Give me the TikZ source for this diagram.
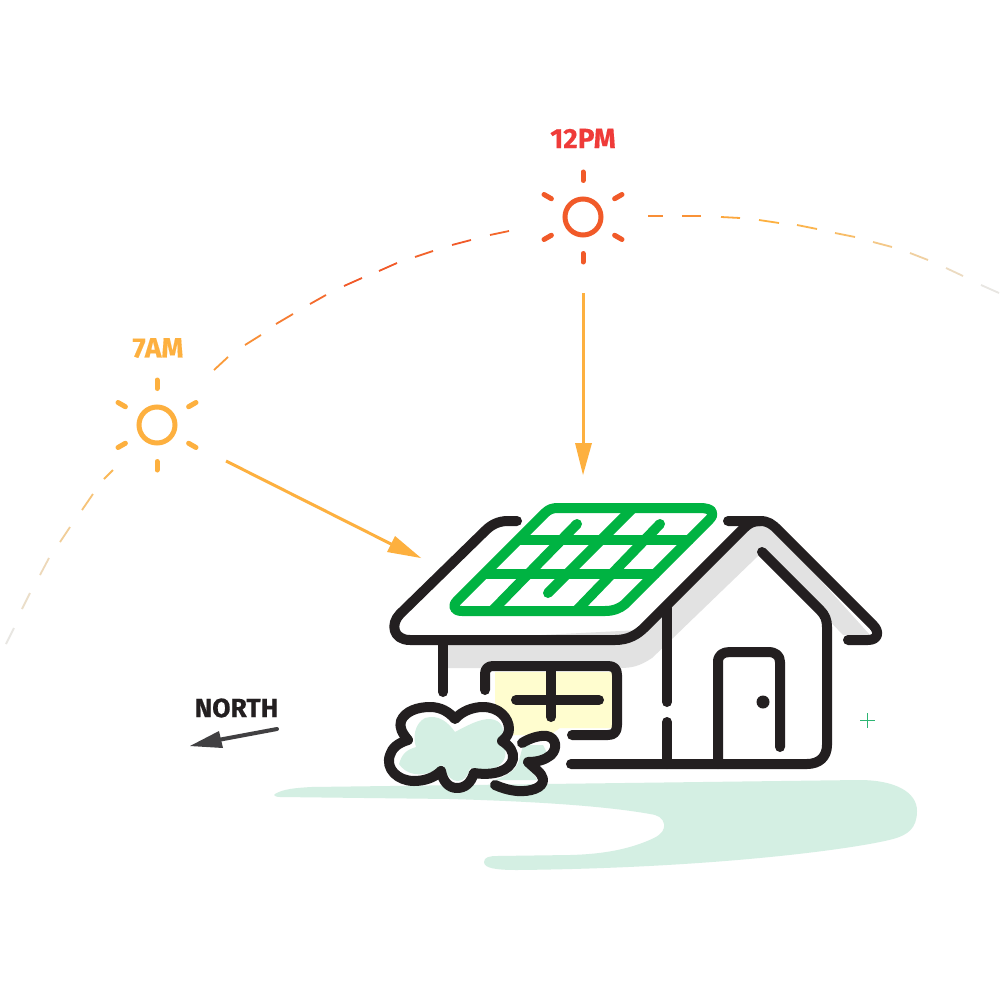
\documentclass[tikz,border=0pt]{standalone}
\usepackage{fontspec}
\newfontfamily\labelfont{Fira Sans Bold}[FakeBold=0.35]
\definecolor{ink}{HTML}{231F20}
\definecolor{solar}{HTML}{00B342}
\definecolor{amber}{HTML}{FDB03F}
\definecolor{noon}{HTML}{F15A29}
\definecolor{noontext}{HTML}{EF3B39}
\definecolor{lawn}{HTML}{D4EFE3}
\definecolor{roofgrey}{HTML}{E2E2E2}
\definecolor{pane}{HTML}{FFFDCF}
\definecolor{pointer}{HTML}{414042}
\definecolor{sparkle}{HTML}{2DB573}
\definecolor{paleline}{HTML}{E8E6E2}
\tikzset{
  outline/.style={draw=ink,line width=10pt,line cap=round,line join=round},
  panel/.style={draw=solar,line width=10pt,line cap=round,line join=round},
  ray/.style={line width=5pt,line cap=round},
  beam/.style={draw=amber,line width=3pt},
  pathdash/.style={line width=1.8pt},
  northtext/.style={font=\labelfont\fontsize{26.5}{26.5}\selectfont,inner sep=0pt},
  hourlabel/.style={font=\labelfont\fontsize{28}{28}\selectfont,inner sep=0pt},
}
\newcommand{\drawsun}[3]{%
  \draw[#3,line width=5pt] (#1,#2) circle[radius=18pt];
  \foreach \a in {30,90,150,210,270,330}
    \draw[#3,ray] ([shift={(\a:36.5pt)}]#1,#2) -- ([shift={(\a:45pt)}]#1,#2);
}
\newcommand{\shrubpath}{(455,719) .. controls (462,711) and (473,707) .. (483,707)
  .. controls (499,707) and (509,718) .. (509,729)
  .. controls (509,734) and (506,738) .. (502,741)
  .. controls (510,746) and (514,752) .. (513,759)
  .. controls (510,771) and (494,776) .. (474,773)
  .. controls (471,783) and (465,788) .. (457,788)
  .. controls (449,788) and (443,782) .. (441,771)
  .. controls (434,778) and (424,781) .. (414,781)
  .. controls (398,781) and (385,769) .. (390,755)
  .. controls (392,748) and (398,743) .. (408,740)
  .. controls (402,733) and (399,727) .. (401,721)
  .. controls (405,711) and (418,707) .. (430,707)
  .. controls (441,707) and (449,712) .. (455,719) -- cycle}
\begin{document}
\begin{tikzpicture}[x=1pt,y=-1pt]
\useasboundingbox (0,0) rectangle (1000,1000);
\fill[white] (0,0) rectangle (1000,1000);

% lawn
\fill[lawn] (275,794) .. controls (283,789) and (295,788) .. (311,787)
  -- (859,780) .. controls (895,780) and (917,792) .. (917,811)
  .. controls (917,828) and (908,835) .. (893,839)
  .. controls (860,848) and (720,868) .. (517,870)
  .. controls (495,870) and (484,868) .. (484,862)
  .. controls (484,857) and (490,856) .. (497,856)
  -- (570,855) .. controls (610,854) and (635,847) .. (654,838)
  .. controls (662,834) and (665,829) .. (664,824)
  .. controls (663,818) and (658,815) .. (650,814)
  .. controls (600,805) and (520,801) .. (450,799)
  -- (280,797) .. controls (275,797) and (273,795) .. (275,794) -- cycle;

% shadow cast by the roof
\fill[roofgrey] (443,640) -- (448,668) -- (620,668)
  .. controls (632,668) and (640,666) .. (652,658)
  -- (673,638) -- (757,557) -- (762,552) -- (822,613) -- (843,635) -- (870,635)
  -- (775,530) -- (760,523) -- (745,527) -- (640,630) -- cycle;

% window glass
\fill[pane] (495,672) -- (612,672) -- (612,728) -- (560,728) -- (550,735) -- (513,735) -- (495,703) -- cycle;

% solar array
\draw[panel] (558,508) -- (700,508) .. controls (712,508) and (716,513) .. (709,520)
  -- (625,604) .. controls (619,609) and (613,611) .. (605,611)
  -- (462,611) .. controls (454,611) and (452,606) .. (457,601)
  -- (545,513) .. controls (549,509) and (553,508) .. (558,508) -- cycle;
\draw[panel] (519,540) -- (689,540);
\draw[panel] (485,574) -- (655,574);
\draw[panel] (577,524) -- (493,610);
\draw[panel] (633,508) -- (548,593);
\draw[panel] (660,524) -- (577,610);

% roof, walls and door
\draw[outline] (517,521) -- (508,521) .. controls (498,521) and (491,525) .. (485,531)
  -- (400,614) .. controls (390,624) and (393,640) .. (410,640)
  -- (615,640) .. controls (628,640) and (637,635) .. (645,627)
  -- (742,530) .. controls (749,523) and (753,521) .. (760,521);
\draw[outline] (728,521) -- (760,521) .. controls (768,521) and (772,524) .. (778,530)
  -- (873,625) .. controls (880,632) and (878,640) .. (868,640) -- (848,640);
\draw[outline] (762,552) -- (820,610) .. controls (825,615) and (827,620) .. (827,627)
  -- (827,745) .. controls (827,757) and (819,764) .. (807,764) -- (571,764);
\draw[outline] (443,643) -- (443,692);
\draw[outline] (667,608) -- (667,702);
\draw[outline] (667,722) -- (667,764);
\draw[outline] (718,764) -- (718,662) .. controls (718,655) and (723,652) .. (730,652)
  -- (768,652) .. controls (776,652) and (780,656) .. (780,662) -- (780,747);
\fill[ink] (763,702) circle[radius=6.5pt];

% window frame
\draw[outline] (485,690) -- (485,674) .. controls (485,669) and (488,666) .. (493,666)
  -- (608,666) .. controls (614,666) and (617,669) .. (617,675)
  -- (617,725) .. controls (617,732) and (614,735) .. (608,735) -- (572,735);
\draw[outline] (516,700) -- (599,700);
\draw[outline] (551,666) -- (551,717);

% shrubs
\fill[lawn] (523,745) -- (543,745) -- (547,753) -- (527,760) -- (537,780) -- (495,780)
  .. controls (510,775) and (518,768) .. (520,757) -- cycle;
\fill[white] \shrubpath;
\fill[lawn] (455,732) .. controls (470,724) and (480,719) .. (490,719)
  .. controls (503,720) and (507,732) .. (499,740)
  .. controls (508,748) and (508,760) .. (497,767)
  .. controls (488,771) and (478,770) .. (470,768)
  .. controls (468,776) and (464,781) .. (458,781)
  .. controls (450,781) and (445,772) .. (443,765)
  .. controls (432,775) and (410,780) .. (399,764)
  .. controls (402,754) and (406,750) .. (416,747)
  .. controls (413,738) and (414,724) .. (425,718)
  .. controls (438,714) and (448,722) .. (455,732) -- cycle;
\draw[outline] \shrubpath;
\draw[outline] (522,743) .. controls (530,738) and (540,735) .. (547,736)
  .. controls (556,738) and (558,748) .. (551,755)
  .. controls (545,760) and (537,762) .. (528,762)
  .. controls (534,768) and (542,773) .. (543,779)
  .. controls (544,788) and (530,792) .. (517,791)
  .. controls (508,790) and (502,788) .. (495,785);

% sun path
\foreach \xa/\ya/\xb/\yb/\tone in {
  6/644/14/628/paleline, 22/609/30/593/paleline!85!amber, 40/575/49/558/paleline!75!amber,
  60/542/70/527/paleline!55!amber, 82/510/93/494/paleline!35!amber, 104/479/113/470/amber!85!paleline,
  214/370/228/357/amber!75!noon, 245/345/261/335/amber!60!noon, 276/324/293/314/amber!40!noon,
  310/304/326/295/noon!80!amber, 344/286/362/278/noon, 379/271/397/263/noon,
  415/257/433/251/noon!90!amber, 452/245/471/240/noon, 490/235/509/231/noon!85!amber,
  648/216/663/216/noon!40!amber, 682/216/701/216/noon!35!amber, 721/217/740/218/amber!90!noon,
  759/220/779/223/amber, 797/225/817/229/amber!90!paleline, 835/233/855/237/amber!75!paleline,
  873/242/892/247/amber!55!paleline, 910/253/928/260/amber!40!paleline, 946/268/963/276/amber!20!paleline,
  981/285/999/293/paleline}
  \draw[\tone,pathdash] (\xa,\ya) -- (\xb,\yb);

% suns and their beams
\drawsun{157}{425}{amber}
\drawsun{583}{217}{noon}
\node[hourlabel,text=amber] (morninglabel) at (158,348) {7AM};
\node[hourlabel,text=noontext] (noonlabel) at (583,138.5) {12PM};

\draw[beam] (583,293) -- (583,445);
\fill[amber] (575,443) -- (592,443) -- (583,475) -- cycle;
\draw[beam] (226,461) -- (393,545);
\fill[amber] (395,536) -- (387,552) -- (421,558) -- cycle;

% compass pointer
\node[northtext,text=ink] (northlabel) at (236.5,708) {NORTH};
\draw[pointer,line width=4pt,line cap=round] (277,729) -- (218,740);
\fill[pointer] (219,731) -- (223,748) -- (190,746) -- cycle;

% small sparkle
\draw[sparkle,line width=1.8pt] (860,720.5) -- (875,720.5) (867.5,713) -- (867.5,728);
\end{tikzpicture}
\end{document}
